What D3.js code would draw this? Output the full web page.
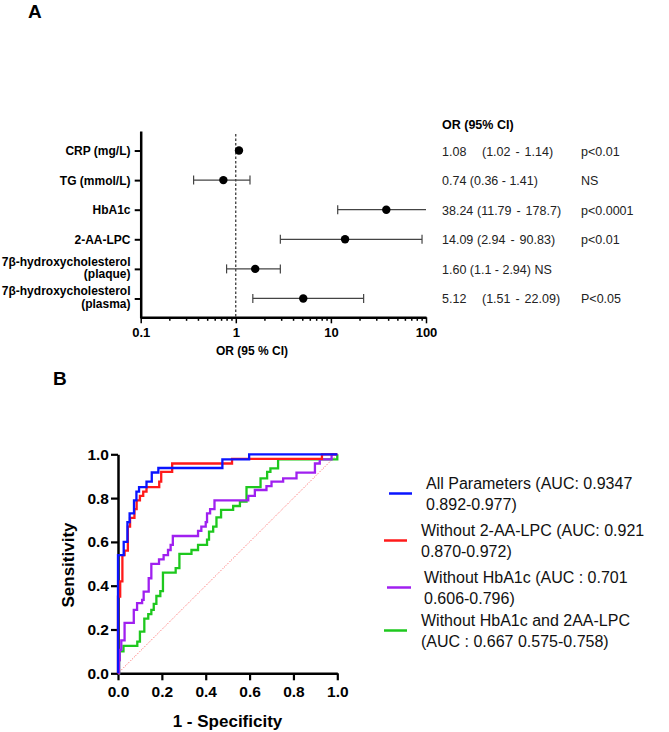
<!DOCTYPE html>
<html>
<head>
<meta charset="utf-8">
<script src="https://cdn.jsdelivr.net/npm/d3@7"></script>
<style>
  body { margin: 0; background: #fff; }
  svg { font-family: "Liberation Sans", Arial, sans-serif; }
</style>
</head>
<body>
<div id="chart"></div>
<script>
// ---- panel A data (odds ratios) ----
const predictors = ["CRP (mg/L)", "TG (mmol/L)", "HbA1c", "2-AA-LPC",
  "7β-hydroxycholesterol|(plaque)", "7β-hydroxycholesterol|(plasma)"];
const orValues = [1.08, 0.74, 38.24, 14.09, 1.60, 5.12];
const ciLow = [1.02, 0.36, 11.79, 2.94, 0.8, 1.51];
const ciHigh = [1.14, 1.41, 178.7, 90.83, 2.94, 22.09];
const orText = ["1.08", "0.74 (0.36 - 1.41)", "38.24", "14.09", "1.60 (1.1 - 2.94) NS", "5.12"];
const ciText = ["(1.02 - 1.14)", "", "(11.79 - 178.7)", "(2.94 - 90.83)", "", "(1.51 - 22.09)"];
const pText = ["p<0.01", "NS", "p<0.0001", "p<0.01", "", "P<0.05"];
const orTicks = [0.1, 1, 10, 100];

// ---- panel B data (ROC curves: [1-specificity, sensitivity] after each step) ----
const rocNames = ["All Parameters (AUC: 0.9347|0.892-0.977)",
  "Without 2-AA-LPC (AUC: 0.921|0.870-0.972)",
  "Without HbA1c (AUC : 0.701|0.606-0.796)",
  "Without HbA1c and 2AA-LPC|(AUC : 0.667 0.575-0.758)"];
const rocAll = [[0,0],[0,0.54],[0.026,0.60],[0.043,0.69],[0.053,0.73],[0.073,0.79],[0.084,0.83],
  [0.096,0.85],[0.13,0.875],[0.154,0.917],[0.184,0.9375],[0.476,0.977],[0.598,1],[1,1]];
const rocNoLPC = [[0,0],[0,0.35],[0.01,0.42],[0.02,0.54],[0.03,0.56],[0.045,0.67],[0.055,0.71],
  [0.075,0.75],[0.085,0.79],[0.1,0.81],[0.115,0.83],[0.13,0.85],[0.188,0.875],[0.197,0.92],
  [0.247,0.958],[0.52,0.979],[0.93,1],[1,1]];
const rocNoHbA1c = [[0,0],[0.005,0.06],[0.008,0.107],[0.015,0.15],[0.03,0.23],[0.072,0.29],
  [0.087,0.32],[0.11,0.335],[0.117,0.373],[0.14,0.434],[0.152,0.5],[0.187,0.52],[0.208,0.54],
  [0.228,0.563],[0.24,0.586],[0.25,0.627],[0.365,0.65],[0.38,0.67],[0.4,0.69],[0.406,0.73],
  [0.42,0.75],[0.44,0.79],[0.594,0.81],[0.624,0.837],[0.677,0.855],[0.70,0.875],[0.753,0.89],
  [0.814,0.916],[0.898,0.958],[0.92,0.977],[0.974,1],[1,1]];
const rocNoBoth = [[0,0],[0.005,0.06],[0.008,0.1],[0.025,0.125],[0.088,0.145],[0.1,0.19],
  [0.12,0.25],[0.138,0.27],[0.152,0.29],[0.163,0.317],[0.175,0.353],[0.193,0.375],[0.205,0.46],
  [0.263,0.48],[0.28,0.545],[0.335,0.563],[0.365,0.586],[0.406,0.61],[0.415,0.647],[0.434,0.67],
  [0.449,0.712],[0.47,0.746],[0.525,0.764],[0.556,0.784],[0.586,0.85],[0.65,0.89],[0.68,0.92],
  [0.695,0.936],[0.73,0.977],[1,1]];
const rocColors = ["#0a14ff", "#ff1a1a", "#a020f0", "#1ec81e"];
const rocTicks = [0, 0.2, 0.4, 0.6, 0.8, 1.0];

const width = 669, height = 732;
const svg = d3.select("#chart").append("svg")
    .attr("width", width)
    .attr("height", height);

// ================= Panel A =================
svg.append("text").attr("x", 28).attr("y", 18)
    .attr("font-size", 19).attr("font-weight", "bold").text("A");

const xOR = d3.scaleLog().domain([0.1, 100]).range([140.7, 426]);
const yOR = d3.scalePoint().domain(predictors).range([131, 318]).padding(0.66);

// minor + major ticks for the log axis
const logTicks = [];
for (let e = -1; e < 2; e++) {
  for (let m = 1; m < 10; m++) logTicks.push(m * Math.pow(10, e));
}
logTicks.push(100);

const xAxisA = svg.append("g")
    .attr("transform", "translate(0,317.3)")
    .call(d3.axisBottom(xOR)
      .tickValues(logTicks)
      .tickSize(6)
      .tickSizeOuter(0)
      .tickFormat(d => orTicks.includes(d) ? String(d) : ""));
xAxisA.selectAll(".tick line")
    .attr("y2", d => orTicks.includes(d) ? 6 : 3.5)
    .attr("stroke-width", 1.5);
xAxisA.select(".domain").attr("stroke-width", 2.5);
xAxisA.selectAll("text")
    .attr("font-size", 13).attr("font-weight", "bold")
    .attr("font-family", "'Liberation Sans', Arial, sans-serif")
    .attr("fill", "#000").attr("dy", "0.75em").attr("y", 10);

const yAxisA = svg.append("g")
    .attr("transform", "translate(140.7,0)")
    .call(d3.axisLeft(yOR).tickSize(6).tickSizeOuter(0).tickFormat(""));
yAxisA.select(".domain").attr("stroke-width", 2.5);
yAxisA.selectAll(".tick line").attr("stroke-width", 2);

predictors.forEach(p => {
  const parts = p.split("|");
  const t = svg.append("text")
      .attr("text-anchor", "end")
      .attr("font-size", 12).attr("font-weight", "bold");
  if (parts.length === 1) {
    t.append("tspan").attr("x", 130.5).attr("y", yOR(p) + 4.5).text(parts[0]);
  } else {
    t.append("tspan").attr("x", 130.5).attr("y", yOR(p) - 3).text(parts[0]);
    t.append("tspan").attr("x", 130.5).attr("y", yOR(p) + 9.5).text(parts[1]);
  }
});

svg.append("text")
    .attr("x", 252).attr("y", 355)
    .attr("text-anchor", "middle")
    .attr("font-size", 12).attr("font-weight", "bold")
    .text("OR (95 % CI)");

// reference line at OR = 1
svg.append("line")
    .attr("x1", xOR(1)).attr("x2", xOR(1))
    .attr("y1", 134).attr("y2", 317)
    .attr("stroke", "#000").attr("stroke-width", 1)
    .attr("stroke-dasharray", "2.5,2");

// error bars
const dotR = 4.2;
const rowsA = predictors.map((p, i) => ({
  name: p, or: orValues[i], lo: ciLow[i], hi: ciHigh[i]
}));
const bars = svg.append("g").selectAll("g")
    .data(rowsA).enter().append("g");
bars.append("line")
    .attr("x1", d => xOR(d.lo))
    .attr("x2", d => xOR(Math.min(d.hi, 100)))
    .attr("y1", d => yOR(d.name)).attr("y2", d => yOR(d.name))
    .attr("stroke", "#444").attr("stroke-width", 1.2);
// caps only where the bar sticks out of the dot
bars.filter(d => xOR(d.or) - xOR(d.lo) > dotR).append("line")
    .attr("x1", d => xOR(d.lo)).attr("x2", d => xOR(d.lo))
    .attr("y1", d => yOR(d.name) - 4.5).attr("y2", d => yOR(d.name) + 4.5)
    .attr("stroke", "#444").attr("stroke-width", 1.2);
bars.filter(d => d.hi <= 100 && xOR(d.hi) - xOR(d.or) > dotR).append("line")
    .attr("x1", d => xOR(d.hi)).attr("x2", d => xOR(d.hi))
    .attr("y1", d => yOR(d.name) - 4.5).attr("y2", d => yOR(d.name) + 4.5)
    .attr("stroke", "#444").attr("stroke-width", 1.2);
bars.append("circle")
    .attr("cx", d => xOR(d.or)).attr("cy", d => yOR(d.name))
    .attr("r", dotR).attr("fill", "#000");

// text table
svg.append("text").attr("x", 442).attr("y", 129)
    .attr("font-size", 12.5).attr("font-weight", "bold").text("OR (95% CI)");
const ciX = [482, 0, 477, 477, 0, 482];
predictors.forEach((p, i) => {
  const yy = yOR(p) + 5;
  svg.append("text").attr("x", 442).attr("y", yy)
      .attr("font-size", 12.5).attr("fill", "#222").text(orText[i]);
  if (ciText[i]) svg.append("text").attr("x", ciX[i]).attr("y", yy)
      .attr("font-size", 12.5).attr("word-spacing", 1.5).attr("fill", "#222").text(ciText[i]);
  if (pText[i]) svg.append("text").attr("x", 581).attr("y", yy)
      .attr("font-size", 12.5).attr("fill", "#222").text(pText[i]);
});

// ================= Panel B =================
svg.append("text").attr("x", 53).attr("y", 385)
    .attr("font-size", 19).attr("font-weight", "bold").text("B");

const xROC = d3.scaleLinear().domain([0, 1]).range([118, 337.3]);
const yROC = d3.scaleLinear().domain([0, 1]).range([673.3, 454.3]);

const xAxisB = svg.append("g")
    .attr("transform", "translate(0,673.3)")
    .call(d3.axisBottom(xROC).tickValues(rocTicks).tickFormat(d3.format(".1f"))
      .tickSize(7).tickSizeOuter(0));
const yAxisB = svg.append("g")
    .attr("transform", "translate(118,0)")
    .call(d3.axisLeft(yROC).tickValues(rocTicks).tickFormat(d3.format(".1f"))
      .tickSize(7).tickSizeOuter(0));
[xAxisB, yAxisB].forEach(ax => {
  ax.select(".domain").attr("stroke-width", 2.5);
  ax.selectAll(".tick line").attr("stroke-width", 2.2);
  ax.selectAll("text")
      .attr("font-size", 15.5).attr("font-weight", "bold")
      .attr("font-family", "'Liberation Sans', Arial, sans-serif")
      .attr("fill", "#000");
});
xAxisB.selectAll("text").attr("y", 13);
yAxisB.selectAll("text").attr("x", -9);

svg.append("text")
    .attr("transform", "translate(74,565) rotate(-90)")
    .attr("text-anchor", "middle")
    .attr("font-size", 17).attr("font-weight", "bold")
    .text("Sensitivity");
svg.append("text")
    .attr("x", 227.5).attr("y", 727)
    .attr("text-anchor", "middle")
    .attr("font-size", 17).attr("font-weight", "bold")
    .text("1 - Specificity");

// chance line
svg.append("line")
    .attr("x1", xROC(0)).attr("y1", yROC(0))
    .attr("x2", xROC(1)).attr("y2", yROC(1))
    .attr("stroke", "#ff6060").attr("stroke-width", 1)
    .attr("stroke-dasharray", "1,1.5");

const rocLine = d3.line()
    .x(d => xROC(d[0]))
    .y(d => yROC(d[1]))
    .curve(d3.curveStepAfter);

const curves = [rocAll, rocNoLPC, rocNoHbA1c, rocNoBoth];
[3, 2, 1, 0].forEach(i => {
  svg.append("path")
      .datum(curves[i])
      .attr("d", rocLine)
      .attr("fill", "none")
      .attr("stroke", rocColors[i])
      .attr("stroke-width", 2.3);
});

// legend
const legX = [[389, 412, 426], [384, 407, 421], [387, 411, 424], [384, 407, 421]];
const legY = [489, 536, 583, 626];
rocNames.forEach((name, i) => {
  const parts = name.split("|");
  svg.append("line")
      .attr("x1", legX[i][0]).attr("x2", legX[i][1])
      .attr("y1", legY[i] + 4.5).attr("y2", legY[i] + 4.5)
      .attr("stroke", rocColors[i]).attr("stroke-width", 2.5);
  const t = svg.append("text").attr("font-size", 16).attr("fill", "#111");
  t.append("tspan").attr("x", legX[i][2]).attr("y", legY[i]).text(parts[0]);
  t.append("tspan").attr("x", legX[i][2]).attr("y", legY[i] + 21).text(parts[1]);
});
</script>
</body>
</html>
